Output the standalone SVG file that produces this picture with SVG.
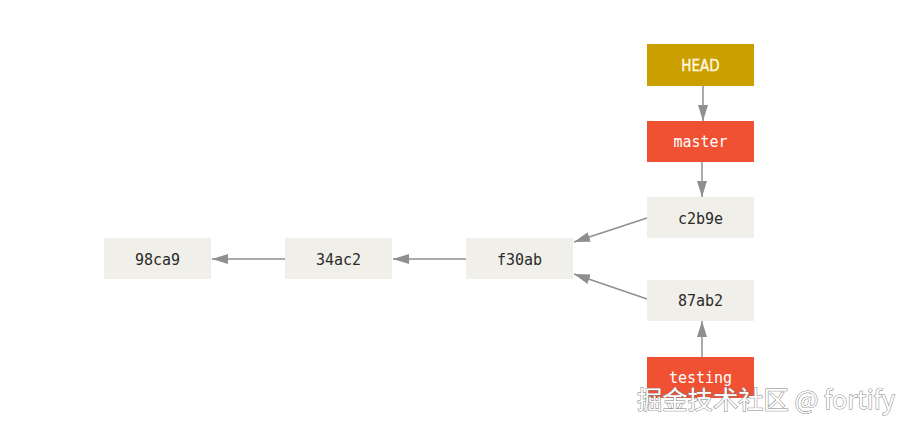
<svg xmlns="http://www.w3.org/2000/svg" width="912" height="429" viewBox="0 0 912 429">
<defs>
<style>
.commit{fill:#f0efe9}
.branch{fill:#f05133}
.head{fill:#cc9f00}
.t{font-family:"DejaVu Sans Mono","Liberation Mono",monospace;font-size:15px;text-anchor:middle;dominant-baseline:central;fill:#2b2b2b}
.tw{fill:#ffffff}
.th{font-family:"DejaVu Sans Condensed","DejaVu Sans",sans-serif;font-stretch:condensed;font-size:15px;text-anchor:middle;dominant-baseline:central;fill:#fff8e0;stroke:#fff8e0;stroke-width:0.3}
.c{stroke:#8f8f8f;stroke-width:1.5;fill:none;marker-end:url(#arr)}
.wm{font-family:"Noto Sans CJK SC","Liberation Sans",sans-serif;font-size:25px;fill:#ffffff;stroke:#808080;stroke-width:1;paint-order:stroke}
</style>
<marker id="arr" viewBox="0 0 16 10" refX="16" refY="5" markerWidth="16" markerHeight="10" markerUnits="userSpaceOnUse" orient="auto">
<path d="M0,0 L16,5 L0,10 Z" fill="#8f8f8f"/>
</marker>
</defs>
<rect width="912" height="429" fill="#ffffff"/>
<g id="connectors">
<line class="c" x1="703" y1="86" x2="703" y2="121"/>
<line class="c" x1="702" y1="162" x2="702" y2="197"/>
<line class="c" x1="702" y1="357" x2="702" y2="321"/>
<line class="c" x1="647" y1="218" x2="574" y2="242"/>
<line class="c" x1="647" y1="299" x2="574" y2="274"/>
<line class="c" x1="466" y1="259" x2="393" y2="259"/>
<line class="c" x1="285" y1="259" x2="212" y2="259"/>
</g>
<g id="n98ca9"><rect class="commit" x="104" y="238" width="107" height="41"/><text class="t" x="157.5" y="259.5">98ca9</text></g>
<g id="n34ac2"><rect class="commit" x="285" y="238" width="107" height="41"/><text class="t" x="338.5" y="259.5">34ac2</text></g>
<g id="nf30ab"><rect class="commit" x="466" y="238" width="107" height="41"/><text class="t" x="519.5" y="259.5">f30ab</text></g>
<g id="nc2b9e"><rect class="commit" x="647" y="197" width="107" height="41"/><text class="t" x="700.5" y="218.5">c2b9e</text></g>
<g id="n87ab2"><rect class="commit" x="647" y="280" width="107" height="41"/><text class="t" x="700.5" y="301">87ab2</text></g>
<g id="nHEAD"><rect class="head" x="647" y="44" width="107" height="42"/><text class="th" x="700.5" y="65.5">HEAD</text></g>
<g id="nmaster"><rect class="branch" x="647" y="121" width="107" height="41"/><text class="t tw" x="700.5" y="142">master</text></g>
<g id="ntesting"><rect class="branch" x="647" y="357" width="107" height="41"/><text class="t tw" x="700.5" y="378">testing</text></g>
<text class="wm" x="637" y="409" textLength="258" lengthAdjust="spacingAndGlyphs">掘金技术社区 @ fortify</text>
</svg>
